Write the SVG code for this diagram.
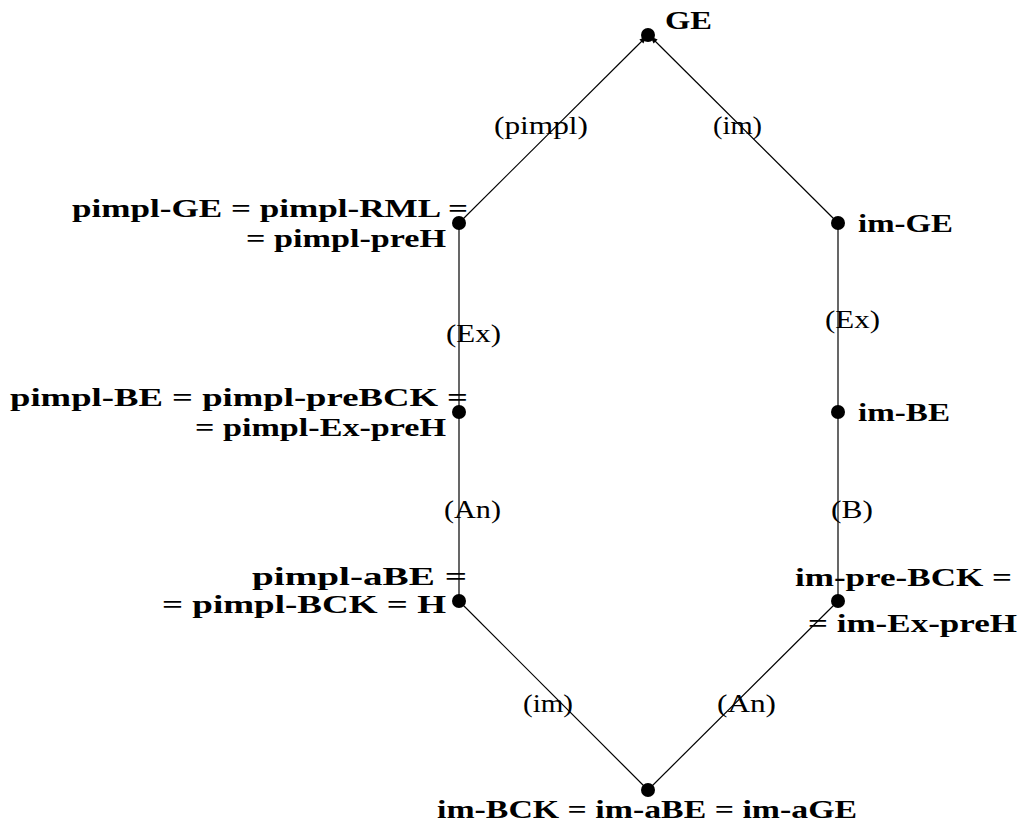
<svg xmlns="http://www.w3.org/2000/svg" width="1021" height="830" viewBox="0 0 1021 830">
  <style>
    .edge { stroke: #000; stroke-width: 1.2; fill: none; }
    .dot { fill: #000; }
    .nl { font-family: "Liberation Serif", "DejaVu Serif", serif; font-weight: bold; font-size: 26px; fill: #000; }
    .el { font-family: "Liberation Serif", "DejaVu Serif", serif; font-size: 26px; fill: #000; }
  </style>
  <defs>
    <marker id="arr" viewBox="0 0 10 10" refX="9" refY="5" markerWidth="6" markerHeight="6" orient="auto">
      <path d="M0,1 L10,5 L0,9 Z" fill="#000"/>
    </marker>
  </defs>
  <rect width="1021" height="830" fill="#fff"/>

  <g id="connectors">
    <line class="edge" x1="459" y1="223" x2="646" y2="37" marker-end="url(#arr)"/>
    <line class="edge" x1="838" y1="223" x2="651" y2="37" marker-end="url(#arr)"/>
    <line class="edge" x1="459" y1="223" x2="459" y2="601"/>
    <line class="edge" x1="838" y1="223" x2="838" y2="601"/>
    <line class="edge" x1="459" y1="601" x2="648" y2="790"/>
    <line class="edge" x1="838" y1="601" x2="648" y2="790"/>
    <text class="el" x="494" y="134" textLength="94" lengthAdjust="spacingAndGlyphs">(pimpl)</text>
    <text class="el" x="713" y="134" textLength="49" lengthAdjust="spacingAndGlyphs">(im)</text>
    <text class="el" x="446" y="342" textLength="55" lengthAdjust="spacingAndGlyphs">(Ex)</text>
    <text class="el" x="825" y="328" textLength="55" lengthAdjust="spacingAndGlyphs">(Ex)</text>
    <text class="el" x="444" y="518" textLength="57" lengthAdjust="spacingAndGlyphs">(An)</text>
    <text class="el" x="831" y="518" textLength="42" lengthAdjust="spacingAndGlyphs">(B)</text>
    <text class="el" x="523" y="712" textLength="50" lengthAdjust="spacingAndGlyphs">(im)</text>
    <text class="el" x="717" y="712" textLength="59" lengthAdjust="spacingAndGlyphs">(An)</text>
  </g>

  <g id="GE">
    <circle class="dot" cx="648" cy="35" r="7"/>
    <text class="nl" x="665" y="29" textLength="47" lengthAdjust="spacingAndGlyphs">GE</text>
  </g>
  <g id="pimpl-GE">
    <circle class="dot" cx="459" cy="223" r="7"/>
    <text class="nl" x="72" y="217" textLength="396" lengthAdjust="spacingAndGlyphs">pimpl-GE = pimpl-RML =</text>
    <text class="nl" x="246" y="247" textLength="200" lengthAdjust="spacingAndGlyphs">= pimpl-preH</text>
  </g>
  <g id="im-GE">
    <circle class="dot" cx="838" cy="223" r="7"/>
    <text class="nl" x="858" y="232" textLength="95" lengthAdjust="spacingAndGlyphs">im-GE</text>
  </g>
  <g id="pimpl-BE">
    <circle class="dot" cx="459" cy="412" r="7"/>
    <text class="nl" x="10" y="406" textLength="458" lengthAdjust="spacingAndGlyphs">pimpl-BE = pimpl-preBCK =</text>
    <text class="nl" x="195" y="436" textLength="251" lengthAdjust="spacingAndGlyphs">= pimpl-Ex-preH</text>
  </g>
  <g id="im-BE">
    <circle class="dot" cx="838" cy="412" r="7"/>
    <text class="nl" x="858" y="421" textLength="92" lengthAdjust="spacingAndGlyphs">im-BE</text>
  </g>
  <g id="pimpl-aBE">
    <circle class="dot" cx="459" cy="601" r="7"/>
    <text class="nl" x="252" y="585" textLength="215" lengthAdjust="spacingAndGlyphs">pimpl-aBE =</text>
    <text class="nl" x="162" y="613" textLength="284" lengthAdjust="spacingAndGlyphs">= pimpl-BCK = H</text>
  </g>
  <g id="im-pre-BCK">
    <circle class="dot" cx="838" cy="601" r="7"/>
    <text class="nl" x="795" y="586" textLength="217" lengthAdjust="spacingAndGlyphs">im-pre-BCK =</text>
    <text class="nl" x="808" y="632" textLength="209" lengthAdjust="spacingAndGlyphs">= im-Ex-preH</text>
  </g>
  <g id="im-BCK">
    <circle class="dot" cx="648" cy="790" r="7"/>
    <text class="nl" x="437" y="818" textLength="420" lengthAdjust="spacingAndGlyphs">im-BCK = im-aBE = im-aGE</text>
  </g>
</svg>
